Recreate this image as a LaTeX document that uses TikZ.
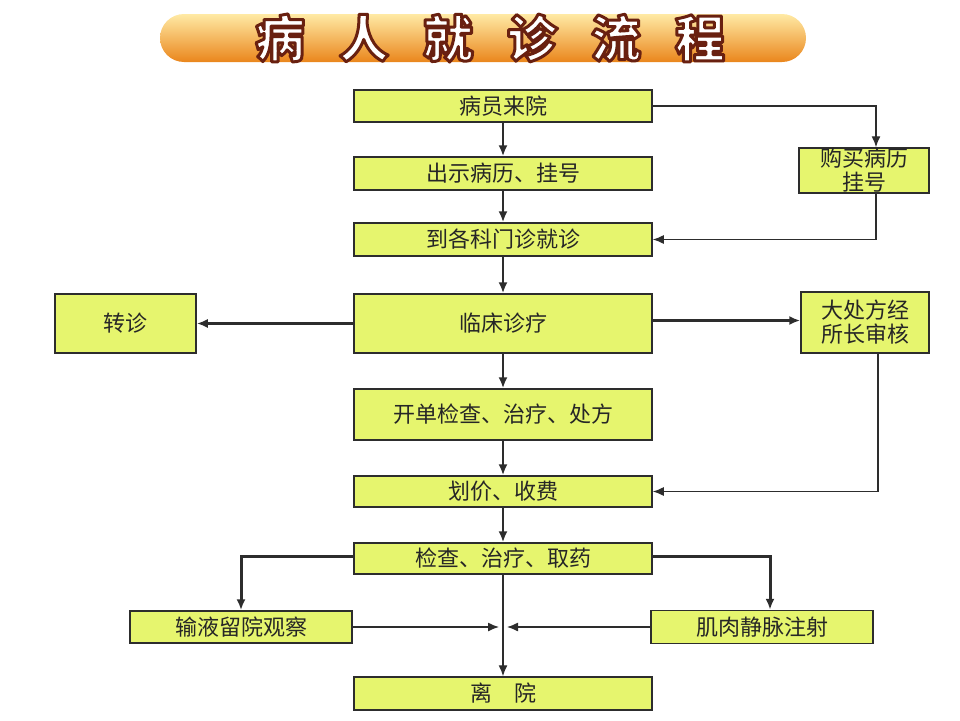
\documentclass[tikz,border=0pt]{standalone}
\usepackage{fontspec}
\setmainfont{Noto Sans CJK SC}
\usetikzlibrary{arrows.meta}
\definecolor{boxgreen}{RGB}{230,245,110}
\definecolor{linegray}{RGB}{45,45,45}
\definecolor{bannertop}{RGB}{255,234,165}
\definecolor{bannermid}{RGB}{248,178,72}
\definecolor{bannerbot}{RGB}{234,134,28}

% outlined title: white fill, brown stroke
\newcommand{\titletext}{病\hspace{34pt}人\hspace{34pt}就\hspace{34pt}诊\hspace{34pt}流\hspace{34pt}程}
\newcommand{\outlined}[1]{\special{pdf:literal direct 0.41 0.125 0.063 RG 3 w 1 j 2 Tr}#1\special{pdf:literal direct 0 Tr}}

\tikzset{
  flowbox/.style={draw=linegray,line width=1.5pt,fill=boxgreen,inner sep=0pt,
    align=center,text=black!85,font=\fontsize{22}{24}\selectfont},
  flow/.style={draw=linegray,line width=2pt,-{Latex[length=11pt,width=9pt]}},
  thinflow/.style={flow,line width=1.3pt},
  thickflow/.style={flow,line width=3pt},
}

\begin{document}
\begin{tikzpicture}[x=1pt,y=-1pt]
  \useasboundingbox (0,0) rectangle (960,720);

  % title banner
  \shade[top color=bannertop,middle color=bannermid,bottom color=bannerbot,rounded corners=24pt]
    (160,14) rectangle (806,62);
  \node[text=white,font=\fontsize{50}{50}\bfseries] (title) at (490,38) {\outlined{\titletext}};

  % main column
  \node[flowbox,minimum width=298pt,minimum height=32pt] (visit) at (503,106) {病员来院};
  \node[flowbox,minimum width=298pt,minimum height=33pt] (showrec) at (503,173.5) {出示病历、挂号};
  \node[flowbox,minimum width=298pt,minimum height=33pt] (dept) at (503,239.5) {到各科门诊就诊};
  \node[flowbox,minimum width=298pt,minimum height=59pt] (clinic) at (503,323.5) {临床诊疗};
  \node[flowbox,minimum width=298pt,minimum height=51pt] (order) at (503,414.5) {开单检查、治疗、处方};
  \node[flowbox,minimum width=298pt,minimum height=31pt] (price) at (503,491.5) {划价、收费};
  \node[flowbox,minimum width=298pt,minimum height=31pt] (treat) at (503,558.5) {检查、治疗、取药};
  \node[flowbox,minimum width=298pt,minimum height=33pt] (leave) at (503,693.5) {离　院};

  % side boxes
  \node[flowbox,minimum width=130pt,minimum height=45pt] (buyrec) at (864,170.5) {购买病历\\挂号};
  \node[flowbox,minimum width=141pt,minimum height=59pt] (transfer) at (125.5,323.5) {转诊};
  \node[flowbox,minimum width=128pt,minimum height=61pt] (bigrx) at (865,322.5) {大处方经\\所长审核};
  \node[flowbox,minimum width=222pt,minimum height=32pt] (infuse) at (241,627) {输液留院观察};
  \node[flowbox,minimum width=222pt,minimum height=33pt] (inject) at (762,627) {肌肉静脉注射};

  % connectors
  \draw[flow] (visit) -- (showrec);
  \draw[flow] (showrec) -- (dept);
  \draw[flow] (dept) -- (clinic);
  \draw[flow] (clinic) -- (order);
  \draw[flow] (order) -- (price);
  \draw[flow] (price) -- (treat);

  \draw[thinflow] (visit.east) -| ([xshift=12pt]buyrec.north);
  \draw[thinflow] ([xshift=12pt]buyrec.south) |- (dept.east);

  \draw[flow,line width=2.5pt] (clinic.west) -- (clinic.west -| transfer.east);
  \draw[thickflow] ([yshift=3pt]clinic.east) -- ([yshift=3pt]clinic.east -| bigrx.west);
  \draw[thinflow] ([xshift=13pt]bigrx.south) |- (price.east);

  \draw[thickflow] ([yshift=2pt]treat.west) -| (infuse.north);
  \draw[thickflow] ([yshift=2pt]treat.east) -| ([xshift=8pt]inject.north);

  \coordinate (meet) at (treat.south |- infuse.east);
  \draw[thinflow] (treat.south) -- (leave.north);
  \draw[thinflow] (infuse.east) -- ([xshift=-4pt]meet);
  \draw[thinflow] (inject.west) -- ([xshift=4pt]meet);
\end{tikzpicture}
\end{document}
